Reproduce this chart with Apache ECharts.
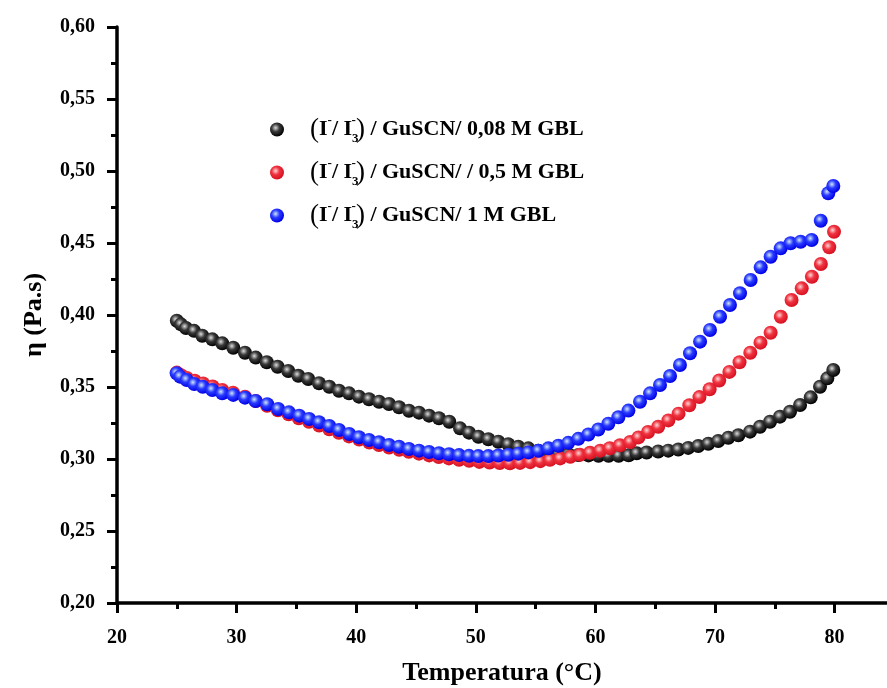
<!DOCTYPE html>
<html>
<head>
<meta charset="utf-8">
<script src="https://cdn.jsdelivr.net/npm/echarts@6/dist/echarts.min.js"></script>
<style>html,body{margin:0;padding:0;background:#fff}#c{width:887px;height:688px}</style>
</head>
<body>
<div id="c"></div>
<script>
// Temperature (°C) and viscosity (Pa.s) values
var blackT = [25.00,25.35,25.77,26.44,27.13,27.97,28.80,29.72,30.70,31.60,32.52,33.43,34.32,35.16,35.99,36.89,37.75,38.56,39.40,40.23,41.07,41.91,42.74,43.58,44.41,45.25,46.09,46.92,47.78,48.68,49.43,50.22,51.05,51.88,52.71,53.55,54.39,55.22,56.06,56.90,57.74,58.58,59.42,60.26,61.10,61.94,62.78,63.45,64.28,65.25,66.09,66.93,67.76,68.60,69.44,70.27,71.11,71.95,72.93,73.76,74.60,75.43,76.27,77.11,78.00,78.78,79.39,79.89];
var blackEta = [0.3960,0.3935,0.3910,0.3890,0.3856,0.3831,0.3803,0.3773,0.3738,0.3704,0.3672,0.3641,0.3611,0.3578,0.3556,0.3526,0.3502,0.3474,0.3456,0.3433,0.3415,0.3398,0.3382,0.3359,0.3335,0.3322,0.3301,0.3283,0.3259,0.3213,0.3183,0.3155,0.3137,0.3120,0.3102,0.3085,0.3074,0.3058,0.3047,0.3040,0.3033,0.3028,0.3025,0.3023,0.3022,0.3023,0.3026,0.3040,0.3045,0.3052,0.3058,0.3066,0.3077,0.3090,0.3106,0.3125,0.3148,0.3165,0.3190,0.3224,0.3259,0.3294,0.3328,0.3375,0.3428,0.3502,0.3560,0.3618];

var redT = [25.00,25.35,25.85,26.50,27.20,28.00,28.80,29.70,30.70,31.60,32.55,33.45,34.35,35.20,36.05,36.90,37.75,38.55,39.40,40.25,41.10,41.90,42.75,43.60,44.40,45.25,46.10,46.90,47.75,48.60,49.45,50.30,51.15,52.00,52.85,53.70,54.55,55.40,56.20,57.05,57.90,58.70,59.55,60.40,61.20,62.05,62.90,63.60,64.40,65.25,66.10,66.95,67.85,68.70,69.55,70.35,71.20,72.05,72.95,73.80,74.65,75.50,76.40,77.25,78.10,78.85,79.55,79.95];
var redEta = [0.3600,0.3582,0.3563,0.3543,0.3524,0.3503,0.3480,0.3460,0.3432,0.3402,0.3370,0.3338,0.3310,0.3283,0.3258,0.3233,0.3207,0.3182,0.3157,0.3135,0.3115,0.3097,0.3080,0.3064,0.3050,0.3037,0.3025,0.3014,0.3004,0.2995,0.2987,0.2980,0.2975,0.2972,0.2971,0.2973,0.2978,0.2985,0.2994,0.3004,0.3016,0.3029,0.3043,0.3058,0.3075,0.3095,0.3118,0.3150,0.3188,0.3224,0.3268,0.3315,0.3373,0.3430,0.3484,0.3545,0.3605,0.3672,0.3738,0.3808,0.3877,0.3988,0.4104,0.4185,0.4266,0.4354,0.4470,0.4578];

var blueT = [24.99,25.27,25.83,26.46,27.17,27.97,28.80,29.72,30.70,31.59,32.56,33.48,34.38,35.24,36.07,36.89,37.75,38.56,39.42,40.23,41.07,41.91,42.74,43.58,44.41,45.25,46.09,46.92,47.76,48.60,49.43,50.21,51.05,51.88,52.72,53.55,54.39,55.23,56.06,56.90,57.73,58.57,59.41,60.24,61.08,61.92,62.76,63.73,64.57,65.40,66.24,67.07,67.91,68.75,69.58,70.42,71.25,72.09,72.98,73.82,74.65,75.49,76.32,77.16,78.08,78.84,79.47,79.89];
var blueEta = [0.3595,0.3572,0.3549,0.3521,0.3502,0.3479,0.3456,0.3445,0.3426,0.3403,0.3380,0.3347,0.3324,0.3301,0.3278,0.3255,0.3229,0.3201,0.3174,0.3151,0.3132,0.3116,0.3097,0.3085,0.3069,0.3058,0.3049,0.3040,0.3033,0.3027,0.3022,0.3020,0.3020,0.3024,0.3030,0.3037,0.3046,0.3057,0.3074,0.3092,0.3112,0.3140,0.3170,0.3205,0.3245,0.3290,0.3336,0.3398,0.3456,0.3514,0.3576,0.3653,0.3734,0.3815,0.3896,0.3988,0.4069,0.4151,0.4243,0.4331,0.4405,0.4463,0.4498,0.4509,0.4521,0.4655,0.4845,0.4896];

var seriesNames = ['0,08 M GBL', '/ 0,5 M GBL', '1 M GBL'];
var xTicks = [20, 30, 40, 50, 60, 70, 80];
var xMinorTicks = [25, 35, 45, 55, 65, 75];
var yTicks = [0.20, 0.25, 0.30, 0.35, 0.40, 0.45, 0.50, 0.55, 0.60];
var X_MIN = 20, X_MAX = 84.38;

function pairs(xs, ys) { return xs.map(function (x, i) { return [x, ys[i]]; }); }
function sphere(c0, c1, c2) {
  return { type: 'radial', x: 0.4, y: 0.38, r: 0.62,
    colorStops: [{ offset: 0, color: c0 }, { offset: 0.45, color: c1 }, { offset: 1, color: c2 }] };
}
var FONT = '"Liberation Serif", "Times New Roman", serif';
var colors = [sphere('#dcdcdc', '#3a3a3a', '#000000'), sphere('#ffd6d6', '#ef3340', '#d81020'), sphere('#cfe6ff', '#2a3cff', '#0000e6')];

var chart = echarts.init(document.getElementById('c'), null, { renderer: 'canvas' });
chart.setOption({
  backgroundColor: '#ffffff',
  animation: false,
  grid: { left: 117, top: 27, bottom: 85, right: 0, containLabel: false, outerBoundsMode: 'none' },
  legend: {
    orient: 'vertical', left: 265, top: 109, itemGap: 12,
    itemWidth: 14, itemHeight: 14, icon: 'circle',
    data: seriesNames,
    formatter: function (n) {
      return '{g|}{p|(}{t|I}{sup|-}{t|/ I}{sub|3}{sup2|-}{p|)}{t| / GuSCN/ ' + n + '}';
    },
    textStyle: {
      fontFamily: FONT, fontWeight: 'bold', color: '#000',
      rich: {
        g: { width: 21 },
        t: { fontFamily: FONT, fontWeight: 'bold', fontSize: 22, lineHeight: 31, color: '#000' },
        p: { fontFamily: FONT, fontWeight: 'normal', fontSize: 27, lineHeight: 31, color: '#000' },
        sup: { fontFamily: FONT, fontWeight: 'bold', fontSize: 13, lineHeight: 14, verticalAlign: 'top', color: '#000' },
        sup2: { fontFamily: FONT, fontWeight: 'bold', fontSize: 13, lineHeight: 14, verticalAlign: 'top', color: '#000', padding: [0, 0, 0, -7] },
        sub: { fontFamily: FONT, fontWeight: 'bold', fontSize: 13, lineHeight: 14, verticalAlign: 'bottom', color: '#000' }
      }
    }
  },
  xAxis: [{
    type: 'value', min: X_MIN, max: X_MAX, position: 'bottom', offset: 0,
    name: 'Temperatura (°C)', nameLocation: 'middle', nameGap: 57,
    nameTextStyle: { fontFamily: FONT, fontWeight: 'bold', fontSize: 26, color: '#000' },
    axisLine: { show: true, lineStyle: { color: '#000', width: 3.5 } },
    axisTick: { show: true, inside: false, length: 10, customValues: xTicks, lineStyle: { color: '#000', width: 3 } },
    splitLine: { show: false },
    axisLabel: { margin: 25, fontFamily: FONT, fontWeight: 'bold', fontSize: 20, color: '#000', customValues: xTicks,
      formatter: function (v) { return String(v); } }
  }, {
    type: 'value', min: X_MIN, max: X_MAX, position: 'bottom', offset: 0,
    axisLine: { show: false },
    axisTick: { show: true, inside: false, length: 6, customValues: xMinorTicks, lineStyle: { color: '#000', width: 3 } },
    splitLine: { show: false },
    axisLabel: { show: false }
  }],
  yAxis: {
    type: 'value', min: 0.2, max: 0.6, interval: 0.05,
    name: 'η (Pa.s)', nameLocation: 'middle', nameGap: 70,
    nameTextStyle: { fontFamily: FONT, fontWeight: 'bold', fontSize: 26, color: '#000' },
    axisLine: { show: true, lineStyle: { color: '#000', width: 3.5 } },
    axisTick: { show: true, inside: false, length: 10, lineStyle: { color: '#000', width: 3 } },
    minorTick: { show: true, splitNumber: 2, length: 6, lineStyle: { color: '#000', width: 3 } },
    splitLine: { show: false },
    axisLabel: { margin: 22, fontFamily: FONT, fontWeight: 'bold', fontSize: 20, color: '#000',
      formatter: function (v) {
        var m = yTicks.filter(function (t) { return Math.abs(t - v) < 1e-6; });
        return m.length ? m[0].toFixed(2).replace('.', ',') : '';
      } }
  },
  series: [
    { name: seriesNames[0], type: 'scatter', symbol: 'circle', symbolSize: 14, data: pairs(blackT, blackEta), itemStyle: { color: colors[0], opacity: 1 }, z: 2 },
    { name: seriesNames[1], type: 'scatter', symbol: 'circle', symbolSize: 14, data: pairs(redT, redEta), itemStyle: { color: colors[1], opacity: 1 }, z: 3 },
    { name: seriesNames[2], type: 'scatter', symbol: 'circle', symbolSize: 14, data: pairs(blueT, blueEta), itemStyle: { color: colors[2], opacity: 1 }, z: 4 }
  ]
});
</script>
</body>
</html>
